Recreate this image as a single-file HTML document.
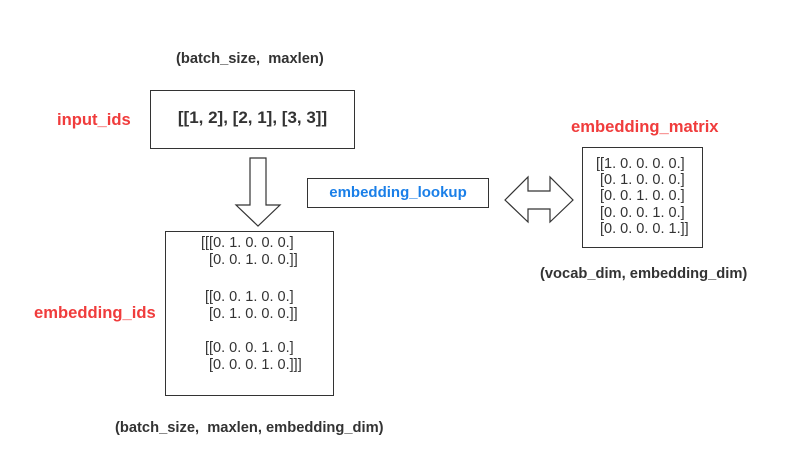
<!DOCTYPE html>
<html><head><style>
body{margin:0;width:786px;height:474px;background:#fff;position:relative;font-family:"Liberation Sans",sans-serif;overflow:hidden}
.t{position:absolute;white-space:pre;color:#333;font-size:14.5px}
.b{font-weight:bold;font-size:14.7px}
.red{color:#f03c3c;font-weight:bold;font-size:16.6px}
.box{position:absolute;border:1px solid #333;box-sizing:border-box}
</style></head><body>
<div class="t b" style="left:176px;top:51px">(batch_size,  maxlen)</div>
<div class="t red" style="left:57px;top:110px">input_ids</div>
<div class="box" style="left:150px;top:90px;width:205px;height:59px"></div>
<div class="t b" style="left:150px;top:108px;width:205px;text-align:center;font-size:17px">[[1, 2], [2, 1], [3, 3]]</div>
<svg style="position:absolute;left:0;top:0" width="786" height="474">
<polygon points="250,158 266,158 266,205 280,205 258,226 236,205 250,205" fill="#fff" stroke="#333" stroke-width="1.2"/>
<polygon points="505,200 528,177 528,191 550,191 550,177 573,200 550,222 550,209 528,209 528,222" fill="#fff" stroke="#333" stroke-width="1.2"/>
</svg>
<div class="box" style="left:307px;top:178px;width:182px;height:30px"></div>
<div class="t b" style="left:307px;top:184px;width:182px;text-align:center;color:#1a7fe8;font-size:15px">embedding_lookup</div>
<div class="t red" style="left:571px;top:117px">embedding_matrix</div>
<div class="box" style="left:582px;top:147px;width:121px;height:101px"></div>
<div class="t" style="left:596px;top:156px;line-height:16.2px">[[1. 0. 0. 0. 0.]
 [0. 1. 0. 0. 0.]
 [0. 0. 1. 0. 0.]
 [0. 0. 0. 1. 0.]
 [0. 0. 0. 0. 1.]]</div>
<div class="t b" style="left:540px;top:266px">(vocab_dim, embedding_dim)</div>
<div class="t red" style="left:34px;top:303px">embedding_ids</div>
<div class="box" style="left:165px;top:231px;width:169px;height:165px"></div>
<div class="t" style="left:201px;top:235px;line-height:17px">[[[0. 1. 0. 0. 0.]
  [0. 0. 1. 0. 0.]]</div>
<div class="t" style="left:205px;top:289px;line-height:17px">[[0. 0. 1. 0. 0.]
 [0. 1. 0. 0. 0.]]</div>
<div class="t" style="left:205px;top:340px;line-height:17px">[[0. 0. 0. 1. 0.]
 [0. 0. 0. 1. 0.]]]</div>
<div class="t b" style="left:115px;top:420px">(batch_size,  maxlen, embedding_dim)</div>
</body></html>
